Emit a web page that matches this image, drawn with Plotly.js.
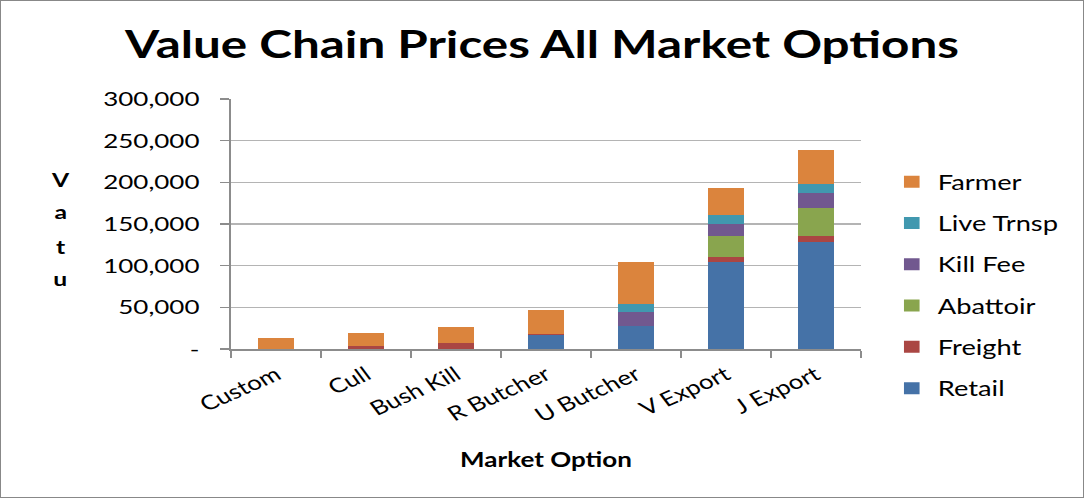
<!DOCTYPE html>
<html><head><meta charset="utf-8">
<script src="https://cdn.plot.ly/plotly-3.0.1.min.js"></script>
<style>
html,body{margin:0;padding:0;background:#fff;}
#wrap{width:1084px;height:498px;box-sizing:border-box;border:1px solid #888;overflow:hidden;position:relative;}
#chart{width:834px;height:498px;transform:scaleX(1.3);transform-origin:0 0;position:absolute;left:-1px;top:-1px;}
</style></head>
<body><div id="wrap"><div id="chart"></div></div>
<script>
const categories = ['Custom','Cull','Bush Kill','R Butcher','U Butcher','V Export','J Export'];
const retail    = [0, 0, 0, 16500, 28000, 105000, 129000];
const freight   = [0, 4000, 7500, 1500, 0, 5600, 6400];
const abattoir  = [0, 0, 0, 0, 0, 24700, 33600];
const killFee   = [0, 0, 0, 0, 17000, 14900, 18400];
const liveTrnsp = [0, 0, 0, 0, 9500, 10800, 10800];
const farmer    = [13000, 15000, 19500, 29000, 50500, 32800, 40800];
const yTickVals = [0, 50000, 100000, 150000, 200000, 250000, 300000];
const yTickText = ['-', '50,000', '100,000', '150,000', '200,000', '250,000', '300,000'];
const yTitleLetters = ['V', 'a', 't', 'u'];

const series = [
  ['Retail', retail, '#4572A7', 6],
  ['Freight', freight, '#AA4643', 5],
  ['Abattoir', abattoir, '#89A54E', 4],
  ['Kill Fee', killFee, '#71588F', 3],
  ['Live Trnsp', liveTrnsp, '#4198AF', 2],
  ['Farmer', farmer, '#DB843D', 1]
];
const font = 'Lato, "Open Sans", sans-serif';
const traces = series.map(([name, vals, color, rank]) => ({
  type: 'bar', name: name, x: categories, y: vals,
  marker: {color: color}, legendgroup: name, legendrank: rank, hoverinfo: 'skip'
}));

const letterY = [0.68, 0.552, 0.412, 0.284];
const annotations = yTitleLetters.map((ch, i) => ({
  text: '<b>' + ch + '</b>', xref: 'paper', yref: 'paper',
  x: -0.271, y: letterY[i], xanchor: 'center', yanchor: 'middle',
  showarrow: false, font: {size: 19, family: font}
}));

const layout = {
  width: 834, height: 498,
  margin: {l: 178, r: 172, t: 99, b: 149},
  barmode: 'stack', bargap: 0.6,
  paper_bgcolor: '#fff', plot_bgcolor: '#fff',
  font: {family: font, color: '#000'},
  title: {text: '<b>Value Chain Prices All Market Options</b>', font: {size: 38, family: font, color: '#000'},
          x: 0.5, xref: 'container', y: 0.91, yref: 'container', xanchor: 'center', yanchor: 'middle'},
  xaxis: {
    type: 'category', showline: true, linecolor: '#8c8c8c', linewidth: 1.5,
    ticks: 'outside', tickson: 'boundaries', ticklen: 7, tickcolor: '#8c8c8c', tickwidth: 1.5,
    tickangle: -30, tickfont: {size: 20, family: font}, ticklabelstandoff: 5,
    title: {text: '<b>Market Option</b>', font: {size: 20, family: font}, standoff: 27},
    showgrid: false
  },
  yaxis: {
    range: [0, 300000], tickvals: yTickVals, ticktext: yTickText,
    showline: true, linecolor: '#8c8c8c', linewidth: 1.5,
    ticks: 'outside', ticklen: 7, tickcolor: '#8c8c8c', tickwidth: 1.5,
    gridcolor: '#b4b4b4', gridwidth: 1.5, zeroline: false,
    tickfont: {size: 20, family: font}, ticklabelstandoff: 12
  },
  legend: {
    x: 1.04, xanchor: 'left', y: 0.256, yanchor: 'middle',
    traceorder: 'grouped', tracegroupgap: 11, maxheight: 400,
    font: {size: 21, family: font}, itemwidth: 30
  },
  annotations: annotations
};
Plotly.newPlot('chart', traces, layout, {displayModeBar: false, staticPlot: true});
</script></body></html>
